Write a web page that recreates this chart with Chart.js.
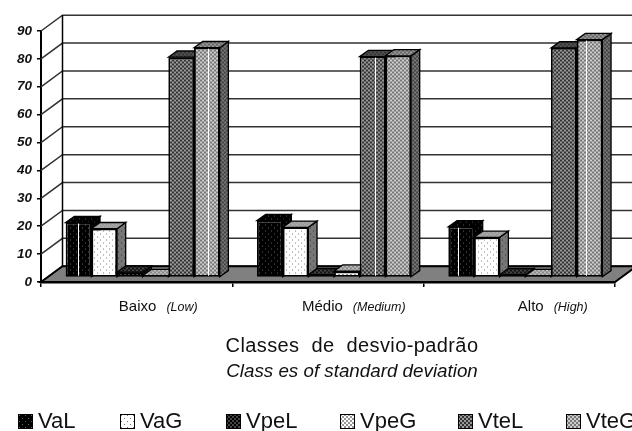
<!DOCTYPE html>
<html>
<head>
<meta charset="utf-8">
<style>
  html, body { margin: 0; padding: 0; background: #fff; overflow: hidden; }
  canvas { display: block; }
</style>
<script src="https://cdn.jsdelivr.net/npm/chart.js@4/dist/chart.umd.min.js"></script>
</head>
<body>
<canvas id="myChart" width="632" height="431"></canvas>
<script>
/* Datos */
const categories = ["Baixo", "Médio", "Alto"];
const categoriesEn = ["(Low)", "(Medium)", "(High)"];
const seriesNames = ["VaL", "VaG", "VpeL", "VpeG", "VteL", "VteG"];
const vaL = [19.7, 20.4, 18.2];
const vaG = [17.5, 18, 14.4];
const vpeL = [1.9, 1, 1];
const vpeG = [0.7, 2.3, 0.7];
const vteL = [79, 79.2, 82.3];
const vteG = [82.4, 79.5, 85.3];
const yTicks = [0, 10, 20, 30, 40, 50, 60, 70, 80, 90];
const xTitle = "Classes de desvio-padrão";
const xTitleEn = "Class es of standard deviation";

const FONT = '"Liberation Sans", Arial, sans-serif';
const ctx = document.getElementById("myChart");

/* Tramas de relleno (imitan el tramado del original) */
const makePattern = (size, bg, dots) => {
  const c = document.createElement("canvas");
  c.width = size;
  c.height = size;
  const g = c.getContext("2d");
  g.fillStyle = bg;
  g.fillRect(0, 0, size, size);
  dots.forEach((d) => {
    g.fillStyle = d[2];
    g.fillRect(d[0], d[1], 1, 1);
  });
  return g.createPattern(c, "repeat");
};
const dotted = (bg, fg) => makePattern(6, bg, [[1, 1, fg], [4, 4, fg]]);
const checker = (bg, fg) =>
  makePattern(4, bg, [
    [0, 0, fg], [1, 0, fg], [0, 1, fg], [1, 1, fg],
    [2, 2, fg], [3, 2, fg], [2, 3, fg], [3, 3, fg],
  ]);

const fronts = [
  dotted("#000", "#666"), dotted("#fff", "#777"),
  checker("#000", "#444"), checker("#999", "#fff"),
  checker("#333", "#999"), checker("#777", "#ccc"),
];
const sides = [
  dotted("#000", "#555"), dotted("#777", "#333"),
  checker("#000", "#333"), checker("#888", "#666"),
  checker("#333", "#666"), checker("#444", "#777"),
];
const tops = [
  dotted("#000", "#555"), checker("#aaa", "#999"),
  checker("#111", "#444"), checker("#bbb", "#888"),
  checker("#333", "#555"), checker("#666", "#999"),
];

/* Profundidad de la pared, de las barras y desplazamiento de las barras en el piso */
const wallDx = 21.5, wallDy = -15.8;
const barDx = 8.7, barDy = -6.2;
const shiftX = 6, shiftY = -4.5;

/* Rayas blancas del original: [serie, categoria, fraccion del ancho] */
const streaks = [[0, 0, 0.5], [5, 0, 0.53], [4, 1, 0.61], [0, 2, 0.37], [5, 2, 0.35]];
const labelNudge = [-17.8, -26, -1.5];
const legendX = [18, 120, 226, 340, 458, 566];

const poly = (c, pts, fill) => {
  c.beginPath();
  pts.forEach((p, i) => (i ? c.lineTo(p[0], p[1]) : c.moveTo(p[0], p[1])));
  c.closePath();
  c.fillStyle = fill;
  c.fill();
  c.stroke();
};

/* Paredes y piso detras de las barras */
const wallPlugin = {
  id: "wall",
  beforeDatasetsDraw(chart) {
    const c = chart.ctx;
    const y = chart.scales.y;
    const a = chart.chartArea;
    c.save();
    c.strokeStyle = "#333";
    c.lineWidth = 1.5;
    yTicks.forEach((t) => {
      const py = y.getPixelForValue(t);
      c.beginPath();
      c.moveTo(a.left, py);
      c.lineTo(a.left + wallDx, py + wallDy);
      c.lineTo(632, py + wallDy);
      c.stroke();
    });
    c.strokeStyle = "#000";
    c.beginPath();
    c.moveTo(a.left + wallDx, a.top + wallDy);
    c.lineTo(a.left + wallDx, a.bottom + wallDy);
    c.stroke();
    c.lineWidth = 2;
    poly(c, [
      [a.left, a.bottom],
      [a.left + wallDx, a.bottom + wallDy],
      [a.right + wallDx, a.bottom + wallDy],
      [a.right, a.bottom],
    ], "#808080");
    c.restore();
  },
  // el dibujo normal va de derecha a izquierda; aqui se cancela y se hace abajo
  beforeDatasetDraw() {
    return false;
  },
  afterDatasetsDraw(chart) {
    const c = chart.ctx;
    c.save();
    c.translate(shiftX, shiftY);
    chart.data.datasets.forEach((ds, i) => {
      const meta = chart.getDatasetMeta(i);
      meta.data.forEach((bar, j) => {
        const p = bar.getProps(["x", "y", "base", "width"], true);
        const l = p.x - p.width / 2, r = p.x + p.width / 2;
        c.strokeStyle = "#000";
        c.lineWidth = 1.3;
        poly(c, [[r, p.y], [r + barDx, p.y + barDy], [r + barDx, p.base + barDy], [r, p.base]], sides[i]);
        poly(c, [[l, p.y], [l + barDx, p.y + barDy], [r + barDx, p.y + barDy], [r, p.y]], tops[i]);
        bar.draw(c);
        streaks.forEach((s) => {
          if (s[0] !== i || s[1] !== j) return;
          const sx = Math.round(l + p.width * s[2]) + 0.5;
          c.strokeStyle = "#fff";
          c.lineWidth = 1;
          c.beginPath();
          c.moveTo(sx, p.y + 1);
          c.lineTo(sx, p.base - 1);
          c.stroke();
        });
      });
    });
    c.restore();
  },
};

/* Textos con fuente mixta y leyenda */
const textPlugin = {
  id: "texts",
  afterDraw(chart) {
    const c = chart.ctx;
    const x = chart.scales.x;
    c.save();
    c.fillStyle = "#111";
    c.textBaseline = "alphabetic";
    c.textAlign = "left";
    categories.forEach((cat, i) => {
      const start = x.getPixelForValue(i) + labelNudge[i];
      c.font = "15px " + FONT;
      c.fillText(cat, start, 311);
      const w = c.measureText(cat).width;
      c.font = "italic 12.5px " + FONT;
      c.fillText(categoriesEn[i], start + w + 10, 311);
    });
    c.textAlign = "center";
    c.font = "20px " + FONT;
    c.letterSpacing = "0.4px";
    c.wordSpacing = "6px";
    c.fillText(xTitle, 352, 352);
    c.font = "italic 18.8px " + FONT;
    c.letterSpacing = "0px";
    c.wordSpacing = "0px";
    c.fillText(xTitleEn, 352, 377);
    c.textAlign = "left";
    c.font = "22px " + FONT;
    c.strokeStyle = "#000";
    c.lineWidth = 1;
    seriesNames.forEach((name, i) => {
      c.fillStyle = fronts[i];
      c.fillRect(legendX[i], 414, 14, 14);
      c.strokeRect(legendX[i] + 0.5, 414.5, 14, 14);
      c.fillStyle = "#111";
      c.fillText(name, legendX[i] + 20, 428);
    });
    c.restore();
  },
};

const seriesValues = [vaL, vaG, vpeL, vpeG, vteL, vteG];
const datasets = seriesNames.map((name, i) => ({
  label: name,
  data: seriesValues[i],
  backgroundColor: fronts[i],
  borderColor: "#000",
  borderWidth: 1.8,
  borderSkipped: false,
  barPercentage: 1,
  categoryPercentage: 0.805,
  clip: false,
}));

new Chart(ctx, {
  type: "bar",
  data: { labels: categories, datasets: datasets },
  plugins: [wallPlugin, textPlugin],
  options: {
    responsive: false,
    animation: false,
    layout: { padding: { left: 0, right: 17, top: 31, bottom: 119 } },
    plugins: {
      legend: { display: false },
      tooltip: { enabled: false },
    },
    scales: {
      x: {
        afterFit: (s) => { s.height = 30; },
        border: { color: "#000", width: 2.5 },
        grid: { drawOnChartArea: false, color: "#000", tickLength: 5, lineWidth: 1.5 },
        ticks: { display: false },
      },
      y: {
        min: 0,
        max: 90,
        afterFit: (s) => { s.width = 41; },
        afterBuildTicks: (s) => { s.ticks = yTicks.map((v) => ({ value: v })); },
        border: { color: "#000", width: 2 },
        grid: { drawOnChartArea: false, color: "#000", tickLength: 4, lineWidth: 1.5 },
        ticks: {
          color: "#111",
          padding: 5,
          font: { family: FONT, size: 13.5, weight: "bold", style: "italic" },
        },
      },
    },
  },
});
</script>
</body>
</html>
